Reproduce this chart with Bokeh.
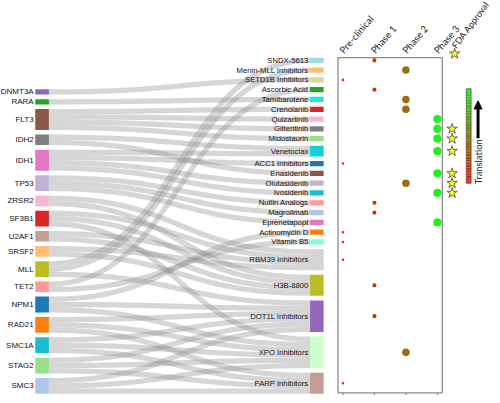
import numpy as np
from bokeh.plotting import figure
from bokeh.models import Range1d, Arrow, NormalHead
from bokeh.core.properties import value
from bokeh.embed import file_html
from bokeh.resources import INLINE

# ---------------- data ----------------
genes = ["DNMT3A", "RARA", "FLT3", "IDH2", "IDH1", "TP53", "ZRSR2", "SF3B1", "U2AF1",
         "SRSF2", "MLL", "TET2", "NPM1", "RAD21", "SMC1A", "STAG2", "SMC3"]
gene_colors = ["#9467bd", "#2ca02c", "#8c564b", "#7f7f7f", "#e377c2", "#c5b0d5", "#f7b6d2",
               "#d62728", "#c49c94", "#ffbb78", "#bcbd22", "#ff9896", "#1f77b4", "#ff7f0e",
               "#17becf", "#98df8a", "#aec7e8"]

drugs = ["SNDX-5613", "Menin-MLL Inhibitors", "SETD1B Inhibitors", "Ascorbic Acid",
         "Tamibarotene", "Crenolanib", "Quizartinib", "Gilteritinib", "Midostaurin",
         "Venetoclax", "ACC1 Inhibitors", "Enasidenib", "Olutasidenib", "Ivosidenib",
         "Nutlin Analogs", "Magrolimab", "Eprenetapopt", "Actinomycin D", "Vitamin B5",
         "RBM39 Inhibitors", "H3B-8800", "DOT1L Inhibitors", "XPO Inhibitors", "PARP Inhibitors"]
drug_colors = ["#9edae5", "#ffbb78", "#dbdb8d", "#2ca02c", "#1de6ef", "#d62728", "#f7b6d2",
               "#7f7f7f", "#98df8a", "#17cdd6", "#1f77b4", "#8c564b", "#c5b0d5", "#17becf",
               "#ff9896", "#aec7e8", "#e377c2", "#ff7f0e", "#80ffd4", "#d4d4d4", "#bcbd22",
               "#9467bd", "#ccffcc", "#c49c94"]
drug_stage = ["Phase 1", "Phase 2", "Pre-clinical", "Phase 1", "Phase 2", "Phase 2", "Phase 3",
              "Phase 3", "Phase 3", "Phase 3", "Pre-clinical", "Phase 3", "Phase 2", "Phase 3",
              "Phase 1", "Phase 1", "Phase 3", "Pre-clinical", "Pre-clinical", "Pre-clinical",
              "Phase 1", "Phase 1", "Phase 2", "Pre-clinical"]
fda_approved = ["Gilteritinib", "Midostaurin", "Venetoclax", "Enasidenib", "Olutasidenib", "Ivosidenib"]

link_source = ["DNMT3A", "RARA",
               "FLT3", "FLT3", "FLT3", "FLT3",
               "IDH2", "IDH2",
               "IDH1", "IDH1", "IDH1", "IDH1",
               "TP53", "TP53", "TP53",
               "ZRSR2", "ZRSR2",
               "SF3B1", "SF3B1", "SF3B1",
               "U2AF1", "U2AF1",
               "SRSF2", "SRSF2",
               "MLL", "MLL", "MLL",
               "TET2", "TET2",
               "NPM1", "NPM1", "NPM1",
               "RAD21", "RAD21", "RAD21",
               "SMC1A", "SMC1A", "SMC1A",
               "STAG2", "STAG2", "STAG2",
               "SMC3", "SMC3", "SMC3"]
link_target = ["SETD1B Inhibitors", "Tamibarotene",
               "Crenolanib", "Quizartinib", "Gilteritinib", "Midostaurin",
               "Venetoclax", "Enasidenib",
               "Venetoclax", "ACC1 Inhibitors", "Olutasidenib", "Ivosidenib",
               "Nutlin Analogs", "Magrolimab", "Eprenetapopt",
               "RBM39 Inhibitors", "H3B-8800",
               "RBM39 Inhibitors", "H3B-8800", "XPO Inhibitors",
               "RBM39 Inhibitors", "H3B-8800",
               "RBM39 Inhibitors", "H3B-8800",
               "SNDX-5613", "Menin-MLL Inhibitors", "DOT1L Inhibitors",
               "Ascorbic Acid", "Vitamin B5",
               "Actinomycin D", "DOT1L Inhibitors", "XPO Inhibitors",
               "DOT1L Inhibitors", "XPO Inhibitors", "PARP Inhibitors",
               "DOT1L Inhibitors", "XPO Inhibitors", "PARP Inhibitors",
               "DOT1L Inhibitors", "XPO Inhibitors", "PARP Inhibitors",
               "DOT1L Inhibitors", "XPO Inhibitors", "PARP Inhibitors"]
link_value = [1] * len(link_source)

stages = ["Pre-clinical", "Phase 1", "Phase 2", "Phase 3"]
fda_label = "FDA Approval"
legend_label = "Translation"

# ---------------- layout (page pixel frame of the reference) ----------------
W, H = 492, 395
XR, YR = 500.0, 403.0
YSCALE = H / YR
K = 5.38      # px per unit value
PAD = 4.62    # node padding
TOP = 58.3
LX0, LX1 = 35.3, 49.2
RX0, RX1 = 314.6, 328.4

si = [genes.index(s) for s in link_source]
ti = [drugs.index(t) for t in link_target]
gene_val = np.zeros(len(genes))
drug_val = np.zeros(len(drugs))
for s, t, v in zip(si, ti, link_value):
    gene_val[s] += v
    drug_val[t] += v

ry0 = []
y = TOP
for v in drug_val:
    ry0.append(y)
    y += v * K + PAD
bottom = y - PAD
ry0 = np.array(ry0)
ry1 = ry0 + drug_val * K

left_total = gene_val.sum() * K + (len(genes) - 1) * PAD
ly0 = []
y = bottom - left_total
for v in gene_val:
    ly0.append(y)
    y += v * K + PAD
ly0 = np.array(ly0)
ly1 = ly0 + gene_val * K

# link offsets
n = len(link_value)
src_y = np.zeros(n)
tgt_y = np.zeros(n)
for g in range(len(genes)):
    idx = sorted([i for i in range(n) if si[i] == g], key=lambda i: ti[i])
    yy = ly0[g]
    for i in idx:
        w = link_value[i] * K
        src_y[i] = yy + w / 2
        yy += w
for d in range(len(drugs)):
    idx = sorted([i for i in range(n) if ti[i] == d], key=lambda i: si[i])
    yy = ry0[d]
    for i in idx:
        w = link_value[i] * K
        tgt_y[i] = yy + w / 2
        yy += w

tt = np.linspace(0, 1, 60)
xm = (LX1 + RX0) / 2
xs_list, ys_list, lw_list = [], [], []
for i in range(n):
    bx = (1 - tt) ** 3 * LX1 + 3 * (1 - tt) ** 2 * tt * xm + 3 * (1 - tt) * tt ** 2 * xm + tt ** 3 * RX0
    by = ((1 - tt) ** 3 + 3 * (1 - tt) ** 2 * tt) * src_y[i] + (3 * (1 - tt) * tt ** 2 + tt ** 3) * tgt_y[i]
    xs_list.append(list(bx))
    ys_list.append(list(by))
    lw_list.append(link_value[i] * K * YSCALE)

p = figure(width=W, height=H, x_range=Range1d(0, XR), y_range=Range1d(YR, 0),
           output_backend="svg", toolbar_location=None, min_border=0)
p.axis.visible = False
p.grid.visible = False
p.outline_line_color = None
p.background_fill_color = "white"

p.multi_line(xs_list, ys_list, line_width=lw_list, line_color="#8c8c8c", line_alpha=0.36,
             line_cap="butt")

# nodes
p.quad(left=[LX0] * len(genes), right=[LX1] * len(genes), top=list(ly0), bottom=list(ly1),
       fill_color=gene_colors, line_color=None)
p.quad(left=[RX0] * len(drugs), right=[RX1] * len(drugs), top=list(ry0), bottom=list(ry1),
       fill_color=drug_colors, line_color=None)

font = value("Liberation Sans")
p.text(x=[LX0 - 1.6] * len(genes), y=list((ly0 + ly1) / 2), text=genes, text_align="right",
       text_baseline="middle", text_font=font, text_font_size="8px", text_color="#111111")
p.text(x=[RX0 - 1.8] * len(drugs), y=list((ry0 + ry1) / 2), text=drugs, text_align="right",
       text_baseline="middle", text_font=font, text_font_size="7.7px", text_color="#111111")

# ---------------- right panel ----------------
SX0, SSTEP = 348.0, 32.0
stage_x = {s: SX0 + SSTEP * k for k, s in enumerate(stages)}
FDA_X = 459.0
BOX_L = stage_x[stages[0]] - 5
BOX_R = stage_x[stages[-1]] + 5

p.quad(left=[BOX_L], right=[BOX_R], top=[TOP], bottom=[bottom - 1], fill_color=None,
       line_color="#8a8a8a", line_width=1.3)
p.segment(x0=[stage_x[s] for s in stages], y0=[bottom - 1] * 4,
          x1=[stage_x[s] for s in stages], y1=[bottom + 2] * 4, line_color="#8a8a8a", line_width=1.2)

# header labels
hx = [stage_x[s] - 1.5 for s in stages]
hy = [52.5] * 4
p.text(x=hx, y=hy, text=stages, angle=0.86, text_align="left",
       text_baseline="alphabetic", text_font=value("Lato"), text_font_size="9.6px",
       text_color="#222222")
p.text(x=[FDA_X + 1.5], y=[47.5], text=[fda_label], angle=0.93, text_align="left",
       text_baseline="alphabetic", text_font=value("Lato"), text_font_size="9px",
       text_color="#222222")
p.scatter(x=[FDA_X + 2.5], y=[54.3], marker="star", size=11, fill_color="#ffff1a",
          line_color="#444444", line_width=0.8)

stage_style = {"Pre-clinical": (2.6, "#e8281c"), "Phase 1": (4.2, "#c8360e"),
               "Phase 2": (7.6, "#a06c10"), "Phase 3": (8.2, "#22ee22")}
centers = (ry0 + ry1) / 2
dx = [stage_x[s] for s in drug_stage]
dsz = [stage_style[s][0] for s in drug_stage]
dcol = [stage_style[s][1] for s in drug_stage]
p.scatter(x=dx, y=list(centers), size=dsz, fill_color=dcol, line_color=None)

fy = [centers[drugs.index(d)] for d in fda_approved]
p.scatter(x=[FDA_X] * len(fy), y=fy, marker="star", size=11, fill_color="#ffff1a",
          line_color="#444444", line_width=0.8)

# translation legend
GB_L, GB_R, GB_T, GB_B = 473.3, 478.3, 90.0, 186.5
nseg = 60
edges = np.linspace(GB_T, GB_B, nseg + 1)
c_top = np.array([0x22, 0xdd, 0x22])
c_mid = np.array([0x80, 0x70, 0x00])
c_bot = np.array([0xee, 0x10, 0x10])
cols = []
for k in range(nseg):
    f = (k + 0.5) / nseg
    if f < 0.5:
        c = c_top + (c_mid - c_top) * (f / 0.5)
    else:
        c = c_mid + (c_bot - c_mid) * ((f - 0.5) / 0.5)
    cols.append("#%02x%02x%02x" % tuple(int(round(v)) for v in c))
p.quad(left=[GB_L] * nseg, right=[GB_R] * nseg, top=list(edges[:-1]), bottom=list(edges[1:]),
       fill_color=cols, line_color=None)
p.quad(left=[GB_L], right=[GB_R], top=[GB_T], bottom=[GB_B], fill_color=None,
       line_color="#444444", line_width=0.6)

p.add_layout(Arrow(end=NormalHead(size=8, fill_color="black", line_color="black"),
                   x_start=485.3, y_start=140.5, x_end=485.3, y_end=102.5,
                   line_width=3, line_color="black"))
p.text(x=[485.3], y=[164.5], text=[legend_label], angle=np.pi / 2, text_align="center",
       text_baseline="middle", text_font=value("Lato"), text_font_size="9.4px",
       text_color="#222222")

open("out.html", "w").write(file_html(p, INLINE))
